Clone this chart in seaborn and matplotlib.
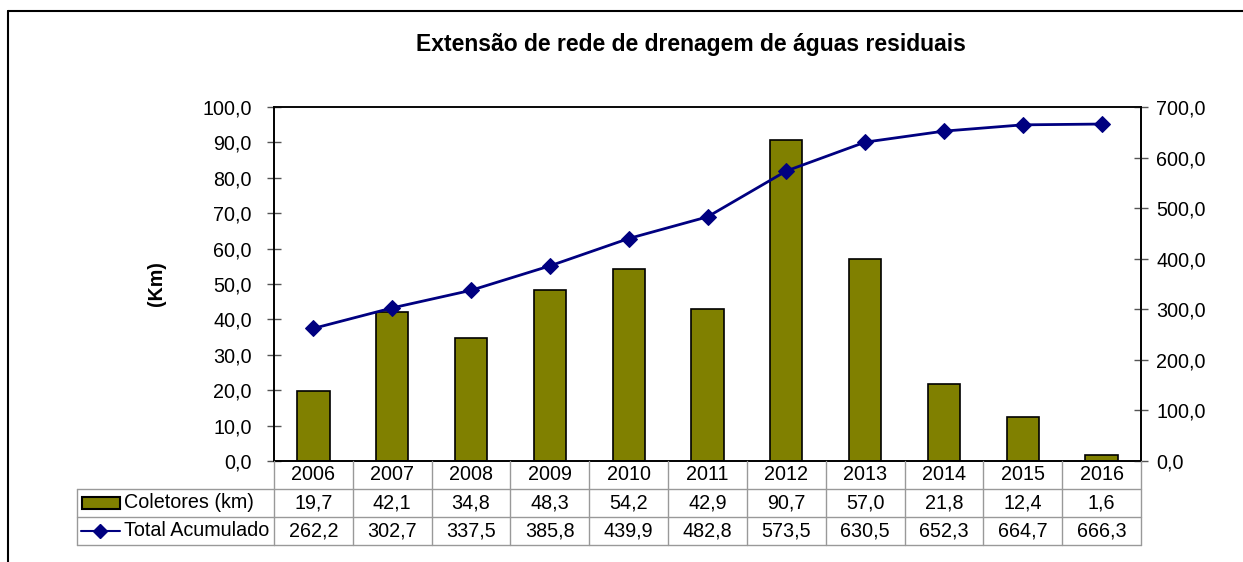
import numpy as np
import pandas as pd
import matplotlib
matplotlib.use("Agg")
import matplotlib.pyplot as plt
import matplotlib.transforms as mtransforms
from matplotlib.lines import Line2D
from matplotlib.patches import Rectangle
import seaborn as sns

# dados
anos = ["2006", "2007", "2008", "2009", "2010", "2011", "2012", "2013", "2014", "2015", "2016"]
coletores = [19.7, 42.1, 34.8, 48.3, 54.2, 42.9, 90.7, 57.0, 21.8, 12.4, 1.6]
total_acumulado = [262.2, 302.7, 337.5, 385.8, 439.9, 482.8, 573.5, 630.5, 652.3, 664.7, 666.3]
ticks_esq = [0, 10, 20, 30, 40, 50, 60, 70, 80, 90, 100]
ticks_dir = [0, 100, 200, 300, 400, 500, 600, 700]

sns.set_style("white")
plt.rcParams["font.family"] = ["Liberation Sans", "DejaVu Sans"]
plt.rcParams["text.color"] = "black"
plt.rcParams["axes.labelcolor"] = "black"
plt.rcParams["ytick.labelcolor"] = "black"

FS = 14.2
W, H = 1243, 562
fig = plt.figure(figsize=(W / 100, H / 100), dpi=100)
ax = fig.add_axes([274 / W, 1 - 461 / H, (1141 - 274) / W, (461 - 107) / H])

df = pd.DataFrame({"Ano": anos, "Coletores": coletores})
sns.barplot(data=df, x="Ano", y="Coletores", color="#808000", edgecolor="black",
            linewidth=1.2, width=0.41, saturation=1, ax=ax)
ax.set_xlim(-0.5, len(anos) - 0.5)
ax.set_ylim(0, 100)
ax.set_yticks(ticks_esq)
ax.set_yticklabels([f"{v:.1f}".replace(".", ",") for v in ticks_esq], fontsize=FS)
ax.set_xticks([])
ax.set_xlabel("")
ax.set_ylabel("(Km)", fontsize=FS, fontweight="bold", labelpad=26)
ax.tick_params(axis="y", direction="inout", length=10, width=1, color="#555555", pad=11)

ax2 = ax.twinx()
sns.lineplot(x=np.arange(len(anos)), y=total_acumulado, color="#000080", marker="D",
             markersize=8.5, markeredgecolor="#000080", linewidth=2, ax=ax2)
ax2.set_ylim(0, 700)
ax2.set_yticks(ticks_dir)
ax2.set_yticklabels([f"{v:.1f}".replace(".", ",") for v in ticks_dir], fontsize=FS)
ax2.tick_params(axis="y", direction="inout", length=10, width=1, color="#555555", pad=6)

for a in (ax, ax2):
    for s in a.spines.values():
        s.set_color("black")
        s.set_linewidth(1.2)
ax.spines["top"].set_color("#333333")

# tabela de dados
trans = mtransforms.blended_transform_factory(ax.transData, fig.transFigure)
ftrans = fig.transFigure
grid = "#999999"
y_rows = [461, 489, 517, 545]
yf = [1 - y / H for y in y_rows]
for i in range(len(anos) + 1):
    x = i - 0.5
    fig.add_artist(Line2D([x, x], [yf[0], yf[3]], color=grid, lw=1, transform=trans))
x_left = 77 / W
x_ax = 274 / W
for y in yf[1:]:
    fig.add_artist(Line2D([x_left, x_ax], [y, y], color=grid, lw=1, transform=ftrans))
    fig.add_artist(Line2D([-0.5, len(anos) - 0.5], [y, y], color=grid, lw=1, transform=trans))
fig.add_artist(Line2D([x_left, x_left], [yf[1], yf[3]], color=grid, lw=1, transform=ftrans))

yc = [(yf[0] + yf[1]) / 2, (yf[1] + yf[2]) / 2, (yf[2] + yf[3]) / 2]
for i, ano in enumerate(anos):
    fig.text(i, yc[0], ano, transform=trans, ha="center", va="center", fontsize=FS)
    fig.text(i, yc[1], f"{coletores[i]:.1f}".replace(".", ","), transform=trans,
             ha="center", va="center", fontsize=FS)
    fig.text(i, yc[2], f"{total_acumulado[i]:.1f}".replace(".", ","), transform=trans,
             ha="center", va="center", fontsize=FS)

# legenda dentro da tabela
fig.add_artist(Rectangle((82 / W, yc[1] - 6 / H), 38 / W, 12 / H, facecolor="#808000",
                         edgecolor="black", lw=1.5, transform=ftrans))
fig.add_artist(Line2D([81 / W, 120 / W], [yc[2], yc[2]], color="#000080", lw=1.5,
                      transform=ftrans))
fig.add_artist(Line2D([100 / W], [yc[2]], color="#000080", marker="D", markersize=7.5,
                      transform=ftrans))
fig.text(124 / W, yc[1], "Coletores (km)", ha="left", va="center", fontsize=FS)
fig.text(124 / W, yc[2], "Total Acumulado", ha="left", va="center", fontsize=FS)

# titulo
fig.text(691 / W, 1 - 45 / H, "Extensão de rede de drenagem de águas residuais",
         ha="center", va="center", fontsize=16.5, fontweight="bold")

# moldura
fig.add_artist(Line2D([8 / W, 1.0], [1 - 11 / H, 1 - 11 / H], color="black", lw=1.5, transform=ftrans))
fig.add_artist(Line2D([8 / W, 8 / W], [0, 1 - 11 / H], color="black", lw=1.5, transform=ftrans))

fig.savefig("out.png", dpi=100)
